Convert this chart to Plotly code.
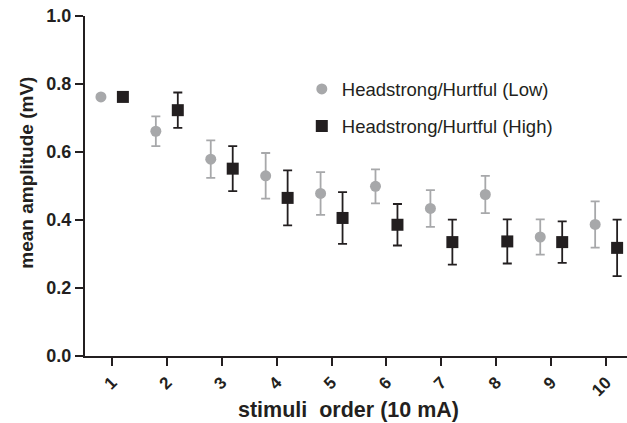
import plotly.graph_objects as go

stimuli = [1, 2, 3, 4, 5, 6, 7, 8, 9, 10]
tick_labels = ["1", "2", "3", "4", "5", "6", "7", "8", "9", "10"]

low_mean = [0.762, 0.661, 0.579, 0.530, 0.478, 0.499, 0.434, 0.475, 0.350, 0.387]
low_err = [0.0, 0.044, 0.055, 0.067, 0.063, 0.050, 0.054, 0.055, 0.052, 0.068]

high_mean = [0.762, 0.723, 0.551, 0.465, 0.406, 0.386, 0.335, 0.337, 0.335, 0.318]
high_err = [0.0, 0.052, 0.066, 0.081, 0.076, 0.061, 0.066, 0.065, 0.061, 0.083]

offset = 0.2
GRAY = "#a7a8aa"
BLACK = "#231f20"
FONT = "Liberation Sans, Arial, sans-serif"

fig = go.Figure()
fig.add_trace(go.Scatter(
    x=[s - offset for s in stimuli], y=low_mean, mode="markers",
    name="Headstrong/Hurtful (Low)", legendgroup="a",
    marker=dict(symbol="circle", size=11, color=GRAY),
    error_y=dict(type="data", array=low_err, color=GRAY, thickness=1.8, width=4.5),
    cliponaxis=False,
))
fig.add_trace(go.Scatter(
    x=[s + offset for s in stimuli], y=high_mean, mode="markers",
    name="Headstrong/Hurtful (High)", legendgroup="b",
    marker=dict(symbol="square", size=12, color=BLACK),
    error_y=dict(type="data", array=high_err, color=BLACK, thickness=1.8, width=4.5),
    cliponaxis=False,
))

fig.update_layout(
    width=627, height=423,
    margin=dict(l=85, r=0, t=16, b=67, autoexpand=False),
    paper_bgcolor="white", plot_bgcolor="white",
    font=dict(family=FONT, color=BLACK),
    showlegend=True,
    legend=dict(x=0.40, y=0.84, xanchor="left", yanchor="top",
                font=dict(size=18.5, color=BLACK),
                bgcolor="rgba(0,0,0,0)", tracegroupgap=10, traceorder="grouped"),
    xaxis=dict(
        range=[0.51, 10.38], tickmode="array", tickvals=stimuli, ticktext=tick_labels,
        tickangle=-45, showline=True, linecolor=BLACK, linewidth=2,
        ticks="outside", ticklen=8, tickwidth=2, tickcolor=BLACK,
        showgrid=False, zeroline=False, automargin=False,
        tickfont=dict(size=17, family=FONT, weight="bold"),
    ),
    yaxis=dict(
        range=[0, 1.0], tickmode="array", tickvals=[0, 0.2, 0.4, 0.6, 0.8, 1.0],
        tickformat=".1f", showline=True, linecolor=BLACK, linewidth=2,
        ticks="outside", ticklen=8, tickwidth=2, tickcolor=BLACK,
        showgrid=False, zeroline=False, automargin=False,
        tickfont=dict(size=18, family=FONT, weight="bold"),
    ),
    annotations=[
        dict(text="stimuli  order (10 mA)", xref="paper", yref="paper",
             x=0.486, y=-0.158, xanchor="center", yanchor="middle", showarrow=False,
             font=dict(size=21.5, family=FONT, weight="bold", color=BLACK)),
        dict(text="mean amplitude (mV)", xref="paper", yref="paper",
             x=-0.107, y=0.539, xanchor="center", yanchor="middle", showarrow=False,
             textangle=-90,
             font=dict(size=19, family=FONT, weight="bold", color=BLACK)),
    ],
)

fig.write_html("out.html", config={"displayModeBar": False},
               post_script="document.body.style.margin='0';")
